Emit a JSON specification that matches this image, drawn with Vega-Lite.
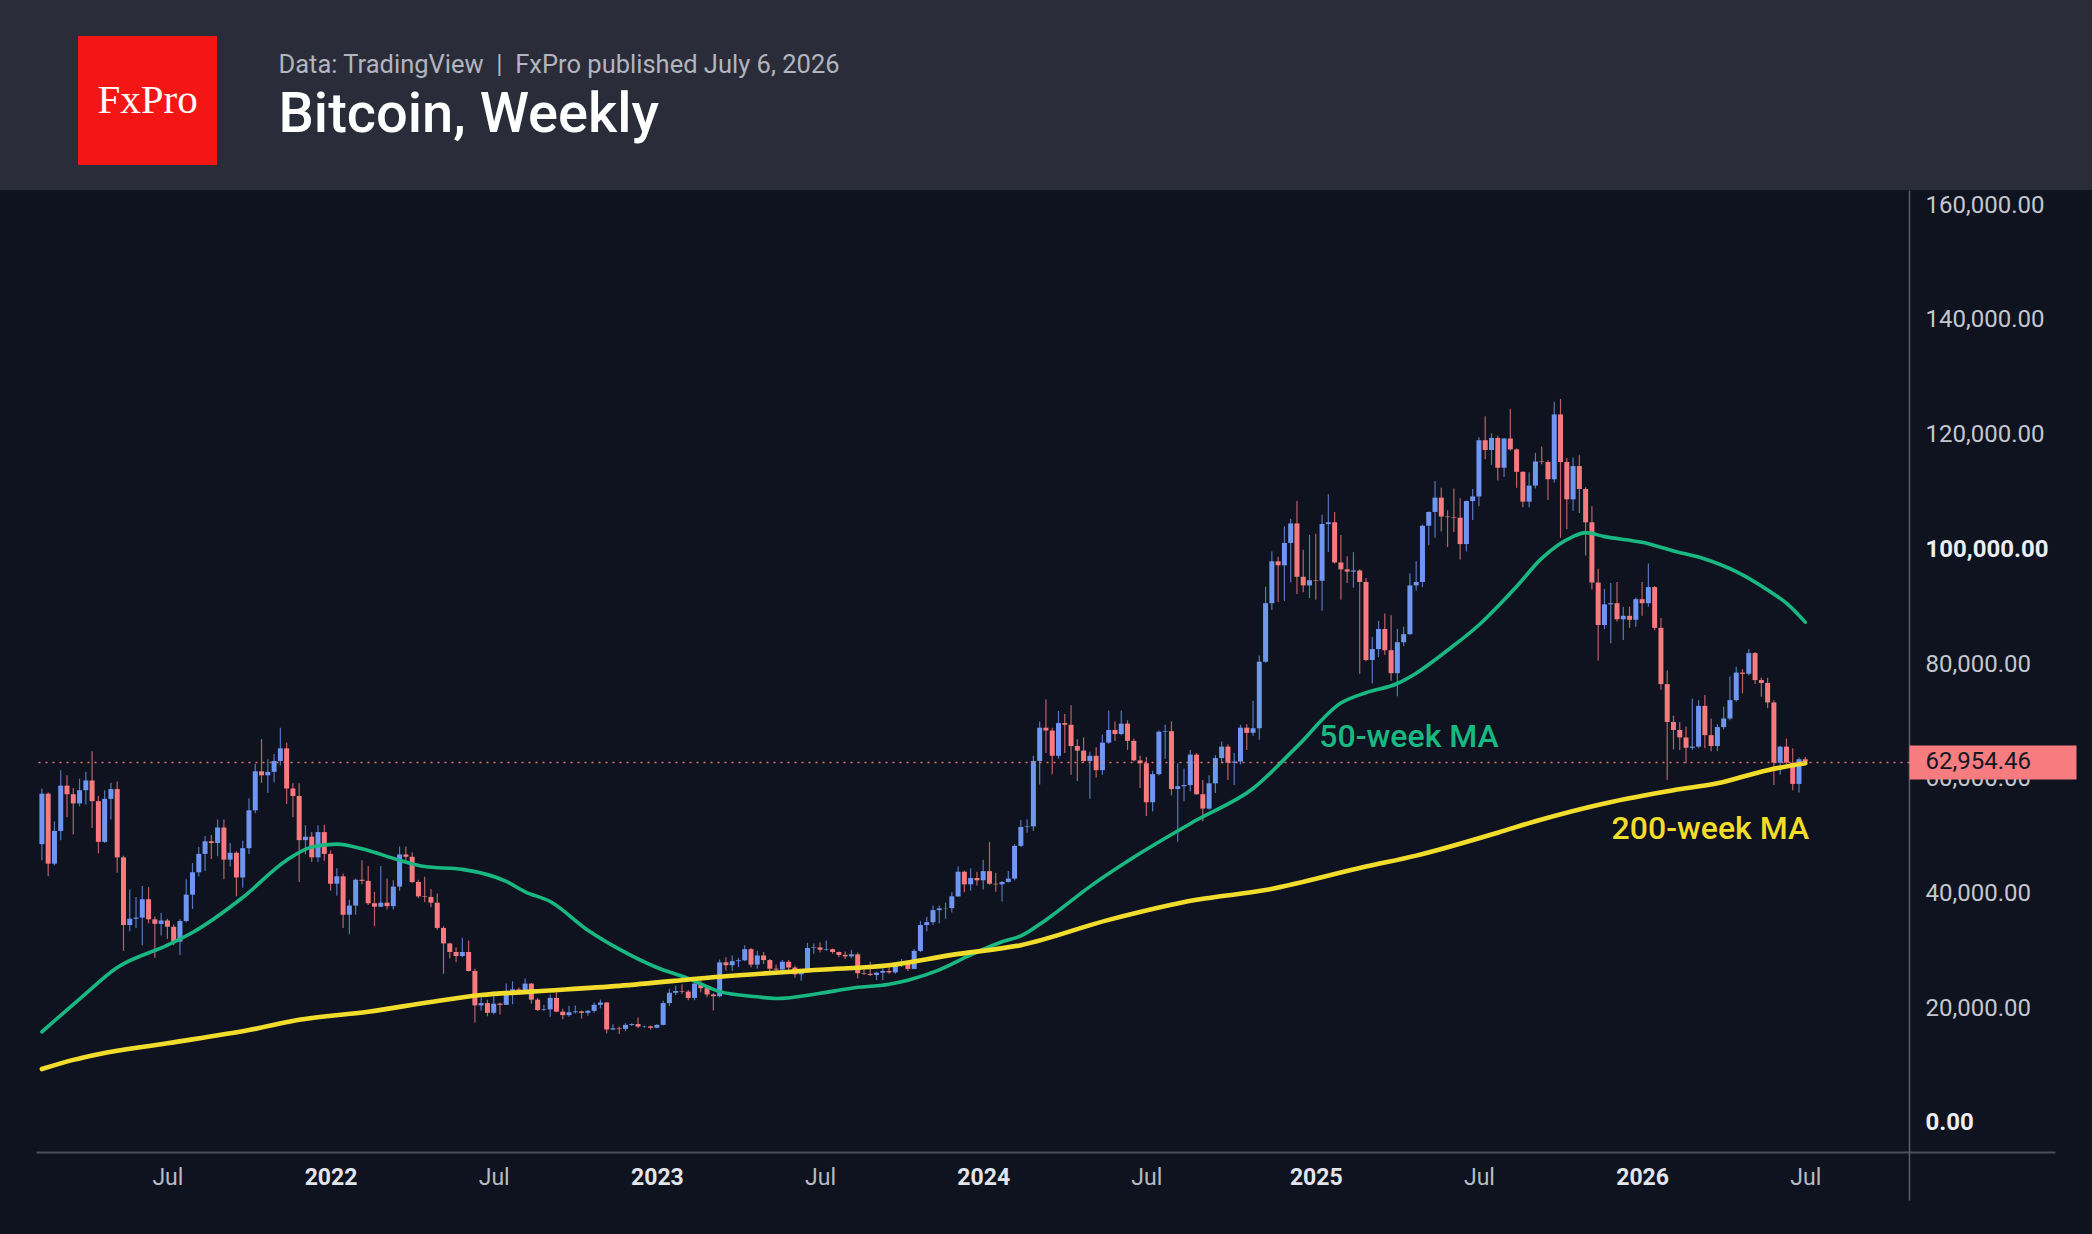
{
  "$schema": "https://vega.github.io/schema/vega-lite/v6.json",
  "padding": 0,
  "background": "#2a2d39",
  "spacing": 0,
  "config": {
    "font": "Roboto",
    "view": {"stroke": null},
    "concat": {"spacing": 0}
  },
  "datasets": {
    "brand": [{"name": "FxPro"}],
    "heading": [
      {"role": "source", "text": "Data: TradingView\u00a0 | \u00a0FxPro published July 6, 2026"},
      {"role": "title", "text": "Bitcoin, Weekly"}
    ],
    "maLabels": [
      {"date": "2025-01-10", "price": 65600, "label": "50-week MA", "series": "50-week MA"},
      {"date": "2025-12-02", "price": 49450, "label": "200-week MA", "series": "200-week MA"}
    ],
    "averages": [
      {"date": "2021-02-15", "series": "50-week MA", "value": 15900},
      {"date": "2021-03-29", "series": "50-week MA", "value": 21600},
      {"date": "2021-05-10", "series": "50-week MA", "value": 27100},
      {"date": "2021-07-05", "series": "50-week MA", "value": 31000},
      {"date": "2021-08-02", "series": "50-week MA", "value": 33200},
      {"date": "2021-09-27", "series": "50-week MA", "value": 39300},
      {"date": "2021-11-15", "series": "50-week MA", "value": 45800},
      {"date": "2021-12-13", "series": "50-week MA", "value": 48100},
      {"date": "2022-01-10", "series": "50-week MA", "value": 48600},
      {"date": "2022-02-07", "series": "50-week MA", "value": 47800},
      {"date": "2022-03-21", "series": "50-week MA", "value": 45800},
      {"date": "2022-04-18", "series": "50-week MA", "value": 44700},
      {"date": "2022-05-30", "series": "50-week MA", "value": 44200},
      {"date": "2022-07-18", "series": "50-week MA", "value": 42100},
      {"date": "2022-08-08", "series": "50-week MA", "value": 40300},
      {"date": "2022-09-05", "series": "50-week MA", "value": 38600},
      {"date": "2022-10-17", "series": "50-week MA", "value": 33600},
      {"date": "2022-11-21", "series": "50-week MA", "value": 30300},
      {"date": "2023-01-02", "series": "50-week MA", "value": 27100},
      {"date": "2023-02-06", "series": "50-week MA", "value": 25200},
      {"date": "2023-03-13", "series": "50-week MA", "value": 22900},
      {"date": "2023-04-24", "series": "50-week MA", "value": 22000},
      {"date": "2023-05-15", "series": "50-week MA", "value": 21700},
      {"date": "2023-07-03", "series": "50-week MA", "value": 22600},
      {"date": "2023-08-07", "series": "50-week MA", "value": 23500},
      {"date": "2023-09-18", "series": "50-week MA", "value": 24200},
      {"date": "2023-10-09", "series": "50-week MA", "value": 24900},
      {"date": "2023-11-13", "series": "50-week MA", "value": 26700},
      {"date": "2023-12-18", "series": "50-week MA", "value": 29300},
      {"date": "2024-01-22", "series": "50-week MA", "value": 31600},
      {"date": "2024-02-12", "series": "50-week MA", "value": 32600},
      {"date": "2024-03-11", "series": "50-week MA", "value": 35400},
      {"date": "2024-04-29", "series": "50-week MA", "value": 41200},
      {"date": "2024-06-24", "series": "50-week MA", "value": 47000},
      {"date": "2024-08-26", "series": "50-week MA", "value": 52800},
      {"date": "2024-10-28", "series": "50-week MA", "value": 58300},
      {"date": "2024-12-16", "series": "50-week MA", "value": 65600},
      {"date": "2025-02-03", "series": "50-week MA", "value": 73200},
      {"date": "2025-03-03", "series": "50-week MA", "value": 75000},
      {"date": "2025-04-07", "series": "50-week MA", "value": 76600},
      {"date": "2025-04-28", "series": "50-week MA", "value": 78400},
      {"date": "2025-06-02", "series": "50-week MA", "value": 82400},
      {"date": "2025-07-07", "series": "50-week MA", "value": 86800},
      {"date": "2025-08-18", "series": "50-week MA", "value": 93500},
      {"date": "2025-09-15", "series": "50-week MA", "value": 98400},
      {"date": "2025-10-20", "series": "50-week MA", "value": 102200},
      {"date": "2025-11-03", "series": "50-week MA", "value": 102900},
      {"date": "2025-11-24", "series": "50-week MA", "value": 102200},
      {"date": "2026-01-05", "series": "50-week MA", "value": 101200},
      {"date": "2026-02-09", "series": "50-week MA", "value": 99700},
      {"date": "2026-03-16", "series": "50-week MA", "value": 98300},
      {"date": "2026-04-20", "series": "50-week MA", "value": 96100},
      {"date": "2026-05-25", "series": "50-week MA", "value": 92900},
      {"date": "2026-06-15", "series": "50-week MA", "value": 90600},
      {"date": "2026-07-06", "series": "50-week MA", "value": 87300},
      {"date": "2021-02-15", "series": "200-week MA", "value": 9400},
      {"date": "2021-03-22", "series": "200-week MA", "value": 11000},
      {"date": "2021-04-19", "series": "200-week MA", "value": 12000},
      {"date": "2021-07-05", "series": "200-week MA", "value": 13900},
      {"date": "2021-10-04", "series": "200-week MA", "value": 16200},
      {"date": "2021-11-29", "series": "200-week MA", "value": 18000},
      {"date": "2022-02-14", "series": "200-week MA", "value": 19400},
      {"date": "2022-04-25", "series": "200-week MA", "value": 21100},
      {"date": "2022-06-20", "series": "200-week MA", "value": 22300},
      {"date": "2022-08-15", "series": "200-week MA", "value": 22900},
      {"date": "2022-11-21", "series": "200-week MA", "value": 23900},
      {"date": "2023-03-13", "series": "200-week MA", "value": 25500},
      {"date": "2023-07-03", "series": "200-week MA", "value": 26700},
      {"date": "2023-09-18", "series": "200-week MA", "value": 27500},
      {"date": "2023-11-27", "series": "200-week MA", "value": 29300},
      {"date": "2024-02-12", "series": "200-week MA", "value": 31000},
      {"date": "2024-05-20", "series": "200-week MA", "value": 35400},
      {"date": "2024-08-26", "series": "200-week MA", "value": 38900},
      {"date": "2024-11-11", "series": "200-week MA", "value": 40600},
      {"date": "2025-03-03", "series": "200-week MA", "value": 44700},
      {"date": "2025-04-28", "series": "200-week MA", "value": 46600},
      {"date": "2025-07-28", "series": "200-week MA", "value": 50600},
      {"date": "2025-09-08", "series": "200-week MA", "value": 52600},
      {"date": "2025-11-24", "series": "200-week MA", "value": 55700},
      {"date": "2026-02-09", "series": "200-week MA", "value": 58000},
      {"date": "2026-03-30", "series": "200-week MA", "value": 59200},
      {"date": "2026-05-25", "series": "200-week MA", "value": 61500},
      {"date": "2026-07-06", "series": "200-week MA", "value": 62700}
    ],
    "candles": [
      {"date": "2021-02-15", "open": 48600, "high": 58300, "low": 45800, "close": 57400},
      {"date": "2021-02-22", "open": 57400, "high": 57600, "low": 43000, "close": 45200},
      {"date": "2021-03-01", "open": 45200, "high": 52600, "low": 44900, "close": 50900},
      {"date": "2021-03-08", "open": 50900, "high": 61500, "low": 49300, "close": 58800},
      {"date": "2021-03-15", "open": 58800, "high": 60600, "low": 53300, "close": 57300},
      {"date": "2021-03-22", "open": 57300, "high": 58400, "low": 50300, "close": 55700},
      {"date": "2021-03-29", "open": 55700, "high": 60000, "low": 55200, "close": 58000},
      {"date": "2021-04-05", "open": 58000, "high": 61200, "low": 55500, "close": 59700},
      {"date": "2021-04-12", "open": 59700, "high": 64800, "low": 51400, "close": 56100},
      {"date": "2021-04-19", "open": 56100, "high": 57000, "low": 47000, "close": 49000},
      {"date": "2021-04-26", "open": 49000, "high": 58000, "low": 48800, "close": 56500},
      {"date": "2021-05-03", "open": 56500, "high": 59300, "low": 52900, "close": 58200},
      {"date": "2021-05-10", "open": 58200, "high": 59500, "low": 43600, "close": 46300},
      {"date": "2021-05-17", "open": 46300, "high": 46600, "low": 30000, "close": 34500},
      {"date": "2021-05-24", "open": 34500, "high": 40700, "low": 33400, "close": 35600},
      {"date": "2021-05-31", "open": 35600, "high": 39400, "low": 34000, "close": 35800},
      {"date": "2021-06-07", "open": 35800, "high": 41300, "low": 31000, "close": 39000},
      {"date": "2021-06-14", "open": 39000, "high": 41100, "low": 34800, "close": 35500},
      {"date": "2021-06-21", "open": 35500, "high": 36000, "low": 28800, "close": 34700},
      {"date": "2021-06-28", "open": 34700, "high": 36600, "low": 32700, "close": 35300},
      {"date": "2021-07-05", "open": 35300, "high": 35600, "low": 32100, "close": 34200},
      {"date": "2021-07-12", "open": 34200, "high": 34600, "low": 31000, "close": 31600},
      {"date": "2021-07-19", "open": 31600, "high": 35500, "low": 29300, "close": 35200},
      {"date": "2021-07-26", "open": 35200, "high": 42500, "low": 35000, "close": 39800},
      {"date": "2021-08-02", "open": 39800, "high": 45300, "low": 37300, "close": 43700},
      {"date": "2021-08-09", "open": 43700, "high": 48100, "low": 43000, "close": 46900},
      {"date": "2021-08-16", "open": 46900, "high": 50000, "low": 43900, "close": 49100},
      {"date": "2021-08-23", "open": 49100, "high": 50200, "low": 46000, "close": 48800},
      {"date": "2021-08-30", "open": 48800, "high": 52900, "low": 46500, "close": 51500},
      {"date": "2021-09-06", "open": 51500, "high": 52900, "low": 42500, "close": 45900},
      {"date": "2021-09-13", "open": 45900, "high": 48800, "low": 44700, "close": 47100},
      {"date": "2021-09-20", "open": 47100, "high": 47400, "low": 39500, "close": 42800},
      {"date": "2021-09-27", "open": 42800, "high": 49200, "low": 41000, "close": 47900},
      {"date": "2021-10-04", "open": 47900, "high": 56600, "low": 46900, "close": 54500},
      {"date": "2021-10-11", "open": 54500, "high": 62600, "low": 54000, "close": 61300},
      {"date": "2021-10-18", "open": 61300, "high": 66900, "low": 59300, "close": 60600},
      {"date": "2021-10-25", "open": 60600, "high": 63400, "low": 57500, "close": 61200},
      {"date": "2021-11-01", "open": 61200, "high": 64300, "low": 59400, "close": 63100},
      {"date": "2021-11-08", "open": 63100, "high": 68900, "low": 62300, "close": 65300},
      {"date": "2021-11-15", "open": 65300, "high": 66300, "low": 55600, "close": 58300},
      {"date": "2021-11-22", "open": 58300, "high": 59200, "low": 53300, "close": 57000},
      {"date": "2021-11-29", "open": 57000, "high": 59200, "low": 42000, "close": 49300},
      {"date": "2021-12-06", "open": 49300, "high": 51900, "low": 46800, "close": 49900},
      {"date": "2021-12-13", "open": 49900, "high": 50700, "low": 45500, "close": 46300},
      {"date": "2021-12-20", "open": 46300, "high": 51900, "low": 45500, "close": 50700},
      {"date": "2021-12-27", "open": 50700, "high": 52000, "low": 45700, "close": 46900},
      {"date": "2022-01-03", "open": 46900, "high": 47500, "low": 40500, "close": 41700},
      {"date": "2022-01-10", "open": 41700, "high": 44400, "low": 39600, "close": 43000},
      {"date": "2022-01-17", "open": 43000, "high": 43500, "low": 34000, "close": 36300},
      {"date": "2022-01-24", "open": 36300, "high": 38900, "low": 32900, "close": 37900},
      {"date": "2022-01-31", "open": 37900, "high": 42600, "low": 36300, "close": 42400},
      {"date": "2022-02-07", "open": 42400, "high": 45800, "low": 41600, "close": 42200},
      {"date": "2022-02-14", "open": 42200, "high": 44800, "low": 38000, "close": 38300},
      {"date": "2022-02-21", "open": 38300, "high": 40300, "low": 34300, "close": 37700},
      {"date": "2022-02-28", "open": 37700, "high": 44800, "low": 37600, "close": 38400},
      {"date": "2022-03-07", "open": 38400, "high": 42600, "low": 37200, "close": 37800},
      {"date": "2022-03-14", "open": 37800, "high": 42300, "low": 37200, "close": 41200},
      {"date": "2022-03-21", "open": 41200, "high": 48200, "low": 40500, "close": 46800},
      {"date": "2022-03-28", "open": 46800, "high": 48200, "low": 45200, "close": 46400},
      {"date": "2022-04-04", "open": 46400, "high": 47200, "low": 41800, "close": 42000},
      {"date": "2022-04-11", "open": 42000, "high": 42400, "low": 39200, "close": 39500},
      {"date": "2022-04-18", "open": 39500, "high": 42900, "low": 38500, "close": 39400},
      {"date": "2022-04-25", "open": 39400, "high": 40800, "low": 37600, "close": 38400},
      {"date": "2022-05-02", "open": 38400, "high": 40000, "low": 33700, "close": 34000},
      {"date": "2022-05-09", "open": 34000, "high": 34300, "low": 26000, "close": 31300},
      {"date": "2022-05-16", "open": 31300, "high": 31400, "low": 28700, "close": 29800},
      {"date": "2022-05-23", "open": 29800, "high": 30600, "low": 28000, "close": 29100},
      {"date": "2022-05-30", "open": 29100, "high": 32300, "low": 28900, "close": 29800},
      {"date": "2022-06-06", "open": 29800, "high": 31800, "low": 26400, "close": 26500},
      {"date": "2022-06-13", "open": 26500, "high": 26900, "low": 17500, "close": 20500},
      {"date": "2022-06-20", "open": 20500, "high": 21900, "low": 19600, "close": 20900},
      {"date": "2022-06-27", "open": 20900, "high": 21500, "low": 18600, "close": 19200},
      {"date": "2022-07-04", "open": 19200, "high": 22500, "low": 18900, "close": 20800},
      {"date": "2022-07-11", "open": 20800, "high": 21000, "low": 18900, "close": 20600},
      {"date": "2022-07-18", "open": 20600, "high": 24300, "low": 20600, "close": 22600},
      {"date": "2022-07-25", "open": 22600, "high": 24700, "low": 20700, "close": 23300},
      {"date": "2022-08-01", "open": 23300, "high": 23600, "low": 22400, "close": 23150},
      {"date": "2022-08-08", "open": 23150, "high": 25200, "low": 22700, "close": 24300},
      {"date": "2022-08-15", "open": 24300, "high": 24400, "low": 20800, "close": 21500},
      {"date": "2022-08-22", "open": 21500, "high": 21800, "low": 19500, "close": 19700},
      {"date": "2022-08-29", "open": 19700, "high": 20600, "low": 19500, "close": 19800},
      {"date": "2022-09-05", "open": 19800, "high": 22400, "low": 18500, "close": 21800},
      {"date": "2022-09-12", "open": 21800, "high": 22800, "low": 19300, "close": 19400},
      {"date": "2022-09-19", "open": 19400, "high": 19900, "low": 18100, "close": 18800},
      {"date": "2022-09-26", "open": 18800, "high": 20400, "low": 18500, "close": 19300},
      {"date": "2022-10-03", "open": 19300, "high": 20500, "low": 19100, "close": 19450},
      {"date": "2022-10-10", "open": 19450, "high": 19600, "low": 18200, "close": 19200},
      {"date": "2022-10-17", "open": 19200, "high": 19700, "low": 18700, "close": 19550},
      {"date": "2022-10-24", "open": 19550, "high": 21000, "low": 19200, "close": 20600},
      {"date": "2022-10-31", "open": 20600, "high": 21500, "low": 20000, "close": 21000},
      {"date": "2022-11-07", "open": 21000, "high": 21100, "low": 15600, "close": 16300},
      {"date": "2022-11-14", "open": 16300, "high": 17200, "low": 16200, "close": 16500},
      {"date": "2022-11-21", "open": 16500, "high": 16800, "low": 15500, "close": 16400},
      {"date": "2022-11-28", "open": 16400, "high": 17400, "low": 16000, "close": 17100},
      {"date": "2022-12-05", "open": 17100, "high": 17400, "low": 16900, "close": 17250},
      {"date": "2022-12-12", "open": 17250, "high": 18400, "low": 16500, "close": 16800},
      {"date": "2022-12-19", "open": 16800, "high": 17000, "low": 16600, "close": 16850},
      {"date": "2022-12-26", "open": 16850, "high": 16950, "low": 16300, "close": 16600},
      {"date": "2023-01-02", "open": 16600, "high": 17200, "low": 16500, "close": 17100},
      {"date": "2023-01-09", "open": 17100, "high": 21300, "low": 17000, "close": 20900},
      {"date": "2023-01-16", "open": 20900, "high": 23400, "low": 20400, "close": 22700},
      {"date": "2023-01-23", "open": 22700, "high": 23900, "low": 22300, "close": 23000},
      {"date": "2023-01-30", "open": 23000, "high": 24200, "low": 22500, "close": 22900},
      {"date": "2023-02-06", "open": 22900, "high": 23200, "low": 21400, "close": 21800},
      {"date": "2023-02-13", "open": 21800, "high": 25200, "low": 21400, "close": 24300},
      {"date": "2023-02-20", "open": 24300, "high": 25100, "low": 22800, "close": 23500},
      {"date": "2023-02-27", "open": 23500, "high": 23900, "low": 21900, "close": 22400},
      {"date": "2023-03-06", "open": 22400, "high": 22600, "low": 19600, "close": 22100},
      {"date": "2023-03-13", "open": 22100, "high": 28500, "low": 21900, "close": 28000},
      {"date": "2023-03-20", "open": 28000, "high": 28900, "low": 26600, "close": 27500},
      {"date": "2023-03-27", "open": 27500, "high": 29200, "low": 26500, "close": 28200},
      {"date": "2023-04-03", "open": 28200, "high": 28800, "low": 27200, "close": 28350},
      {"date": "2023-04-10", "open": 28350, "high": 31000, "low": 28200, "close": 30300},
      {"date": "2023-04-17", "open": 30300, "high": 30500, "low": 27100, "close": 27600},
      {"date": "2023-04-24", "open": 27600, "high": 30000, "low": 26900, "close": 29200},
      {"date": "2023-05-01", "open": 29200, "high": 29800, "low": 27700, "close": 28400},
      {"date": "2023-05-08", "open": 28400, "high": 28600, "low": 25800, "close": 26900},
      {"date": "2023-05-15", "open": 26900, "high": 27600, "low": 26400, "close": 26750},
      {"date": "2023-05-22", "open": 26750, "high": 28400, "low": 25900, "close": 28100},
      {"date": "2023-05-29", "open": 28100, "high": 28400, "low": 26500, "close": 27100},
      {"date": "2023-06-05", "open": 27100, "high": 27400, "low": 25300, "close": 25900},
      {"date": "2023-06-12", "open": 25900, "high": 26800, "low": 24800, "close": 26300},
      {"date": "2023-06-19", "open": 26300, "high": 31400, "low": 26200, "close": 30500},
      {"date": "2023-06-26", "open": 30500, "high": 31300, "low": 29500, "close": 30600},
      {"date": "2023-07-03", "open": 30600, "high": 31500, "low": 29700, "close": 30200},
      {"date": "2023-07-10", "open": 30200, "high": 31800, "low": 30000, "close": 30300},
      {"date": "2023-07-17", "open": 30300, "high": 30400, "low": 29500, "close": 29800},
      {"date": "2023-07-24", "open": 29800, "high": 29900, "low": 28900, "close": 29300},
      {"date": "2023-07-31", "open": 29300, "high": 29900, "low": 28600, "close": 29050},
      {"date": "2023-08-07", "open": 29050, "high": 30200, "low": 28700, "close": 29400},
      {"date": "2023-08-14", "open": 29400, "high": 29700, "low": 25200, "close": 26100},
      {"date": "2023-08-21", "open": 26100, "high": 26800, "low": 25800, "close": 26000},
      {"date": "2023-08-28", "open": 26000, "high": 28100, "low": 25600, "close": 25800},
      {"date": "2023-09-04", "open": 25800, "high": 26400, "low": 24900, "close": 26200},
      {"date": "2023-09-11", "open": 26200, "high": 27500, "low": 24900, "close": 26500},
      {"date": "2023-09-18", "open": 26500, "high": 27500, "low": 26000, "close": 26250},
      {"date": "2023-09-25", "open": 26250, "high": 28000, "low": 26000, "close": 27900},
      {"date": "2023-10-02", "open": 27900, "high": 28600, "low": 27200, "close": 27950},
      {"date": "2023-10-09", "open": 27950, "high": 28000, "low": 26500, "close": 26850},
      {"date": "2023-10-16", "open": 26850, "high": 30300, "low": 26800, "close": 30000},
      {"date": "2023-10-23", "open": 30000, "high": 35200, "low": 29800, "close": 34500},
      {"date": "2023-10-30", "open": 34500, "high": 35900, "low": 33400, "close": 35000},
      {"date": "2023-11-06", "open": 35000, "high": 37900, "low": 34500, "close": 37100},
      {"date": "2023-11-13", "open": 37100, "high": 37900, "low": 34800, "close": 37400},
      {"date": "2023-11-20", "open": 37400, "high": 38400, "low": 35600, "close": 37450},
      {"date": "2023-11-27", "open": 37450, "high": 40200, "low": 36700, "close": 39500},
      {"date": "2023-12-04", "open": 39500, "high": 44700, "low": 39400, "close": 43800},
      {"date": "2023-12-11", "open": 43800, "high": 44000, "low": 40200, "close": 41600},
      {"date": "2023-12-18", "open": 41600, "high": 44400, "low": 40500, "close": 42700},
      {"date": "2023-12-25", "open": 42700, "high": 43800, "low": 41400, "close": 42300},
      {"date": "2024-01-01", "open": 42300, "high": 45900, "low": 40700, "close": 43900},
      {"date": "2024-01-08", "open": 43900, "high": 49000, "low": 41500, "close": 41700},
      {"date": "2024-01-15", "open": 41700, "high": 43600, "low": 40300, "close": 41600},
      {"date": "2024-01-22", "open": 41600, "high": 42200, "low": 38600, "close": 42000},
      {"date": "2024-01-29", "open": 42000, "high": 43900, "low": 41900, "close": 42600},
      {"date": "2024-02-05", "open": 42600, "high": 48600, "low": 42300, "close": 48300},
      {"date": "2024-02-12", "open": 48300, "high": 52800, "low": 48100, "close": 51600},
      {"date": "2024-02-19", "open": 51600, "high": 52900, "low": 50600, "close": 51700},
      {"date": "2024-02-26", "open": 51700, "high": 64000, "low": 50900, "close": 63100},
      {"date": "2024-03-04", "open": 63100, "high": 70000, "low": 59000, "close": 68900},
      {"date": "2024-03-11", "open": 68900, "high": 73800, "low": 64500, "close": 68400},
      {"date": "2024-03-18", "open": 68400, "high": 68900, "low": 60800, "close": 64000},
      {"date": "2024-03-25", "open": 64000, "high": 71800, "low": 63500, "close": 69700},
      {"date": "2024-04-01", "open": 69700, "high": 71300, "low": 64500, "close": 69400},
      {"date": "2024-04-08", "open": 69400, "high": 72800, "low": 60700, "close": 65700},
      {"date": "2024-04-15", "open": 65700, "high": 66900, "low": 59600, "close": 64900},
      {"date": "2024-04-22", "open": 64900, "high": 67200, "low": 62800, "close": 63100},
      {"date": "2024-04-29", "open": 63100, "high": 64700, "low": 56500, "close": 64000},
      {"date": "2024-05-06", "open": 64000, "high": 65500, "low": 60200, "close": 61500},
      {"date": "2024-05-13", "open": 61500, "high": 67700, "low": 60700, "close": 66300},
      {"date": "2024-05-20", "open": 66300, "high": 71900, "low": 66100, "close": 68500},
      {"date": "2024-05-27", "open": 68500, "high": 70000, "low": 66600, "close": 67800},
      {"date": "2024-06-03", "open": 67800, "high": 71900, "low": 67600, "close": 69600},
      {"date": "2024-06-10", "open": 69600, "high": 70200, "low": 65000, "close": 66600},
      {"date": "2024-06-17", "open": 66600, "high": 67000, "low": 63000, "close": 63200},
      {"date": "2024-06-24", "open": 63200, "high": 64000, "low": 58400, "close": 62700},
      {"date": "2024-07-01", "open": 62700, "high": 63800, "low": 53500, "close": 55900},
      {"date": "2024-07-08", "open": 55900, "high": 61400, "low": 54300, "close": 60800},
      {"date": "2024-07-15", "open": 60800, "high": 68400, "low": 60600, "close": 68200},
      {"date": "2024-07-22", "open": 68200, "high": 69400, "low": 63500, "close": 68300},
      {"date": "2024-07-29", "open": 68300, "high": 70000, "low": 57100, "close": 58200},
      {"date": "2024-08-05", "open": 58200, "high": 62700, "low": 49000, "close": 58700},
      {"date": "2024-08-12", "open": 58700, "high": 61800, "low": 56100, "close": 58900},
      {"date": "2024-08-19", "open": 58900, "high": 65000, "low": 57800, "close": 64200},
      {"date": "2024-08-26", "open": 64200, "high": 64500, "low": 57200, "close": 57300},
      {"date": "2024-09-02", "open": 57300, "high": 59800, "low": 52600, "close": 54800},
      {"date": "2024-09-09", "open": 54800, "high": 60600, "low": 54600, "close": 59200},
      {"date": "2024-09-16", "open": 59200, "high": 64100, "low": 57500, "close": 63600},
      {"date": "2024-09-23", "open": 63600, "high": 66500, "low": 62700, "close": 65600},
      {"date": "2024-09-30", "open": 65600, "high": 66000, "low": 59800, "close": 62800},
      {"date": "2024-10-07", "open": 62800, "high": 64500, "low": 58900, "close": 63000},
      {"date": "2024-10-14", "open": 63000, "high": 69400, "low": 62500, "close": 68900},
      {"date": "2024-10-21", "open": 68900, "high": 69500, "low": 65000, "close": 68000},
      {"date": "2024-10-28", "open": 68000, "high": 73600, "low": 67500, "close": 68800},
      {"date": "2024-11-04", "open": 68800, "high": 81500, "low": 66800, "close": 80400},
      {"date": "2024-11-11", "open": 80400, "high": 93500, "low": 80200, "close": 90600},
      {"date": "2024-11-18", "open": 90600, "high": 99600, "low": 89400, "close": 97900},
      {"date": "2024-11-25", "open": 97900, "high": 98700, "low": 90800, "close": 97200},
      {"date": "2024-12-02", "open": 97200, "high": 104000, "low": 91000, "close": 101100},
      {"date": "2024-12-09", "open": 101100, "high": 105300, "low": 94200, "close": 104500},
      {"date": "2024-12-16", "open": 104500, "high": 108400, "low": 92200, "close": 95200},
      {"date": "2024-12-23", "open": 95200, "high": 99900, "low": 92500, "close": 93700},
      {"date": "2024-12-30", "open": 93700, "high": 102500, "low": 91500, "close": 94600},
      {"date": "2025-01-06", "open": 94600, "high": 102700, "low": 91200, "close": 94500},
      {"date": "2025-01-13", "open": 94500, "high": 106000, "low": 89300, "close": 104400},
      {"date": "2025-01-20", "open": 104400, "high": 109600, "low": 99500, "close": 104700},
      {"date": "2025-01-27", "open": 104700, "high": 106500, "low": 97500, "close": 97700},
      {"date": "2025-02-03", "open": 97700, "high": 102500, "low": 91200, "close": 96500},
      {"date": "2025-02-10", "open": 96500, "high": 98800, "low": 94100, "close": 96100},
      {"date": "2025-02-17", "open": 96100, "high": 99500, "low": 93300, "close": 96300},
      {"date": "2025-02-24", "open": 96300, "high": 96500, "low": 78300, "close": 94300},
      {"date": "2025-03-03", "open": 94300, "high": 95000, "low": 80500, "close": 80700},
      {"date": "2025-03-10", "open": 80700, "high": 84700, "low": 76600, "close": 82600},
      {"date": "2025-03-17", "open": 82600, "high": 87500, "low": 81200, "close": 86100},
      {"date": "2025-03-24", "open": 86100, "high": 88800, "low": 81600, "close": 82400},
      {"date": "2025-03-31", "open": 82400, "high": 88500, "low": 77100, "close": 78400},
      {"date": "2025-04-07", "open": 78400, "high": 86100, "low": 74400, "close": 83800},
      {"date": "2025-04-14", "open": 83800, "high": 86500, "low": 83100, "close": 85200},
      {"date": "2025-04-21", "open": 85200, "high": 95800, "low": 85100, "close": 93700},
      {"date": "2025-04-28", "open": 93700, "high": 97900, "low": 92800, "close": 94300},
      {"date": "2025-05-05", "open": 94300, "high": 104300, "low": 93400, "close": 104100},
      {"date": "2025-05-12", "open": 104100, "high": 106600, "low": 100700, "close": 106500},
      {"date": "2025-05-19", "open": 106500, "high": 111900, "low": 102000, "close": 109000},
      {"date": "2025-05-26", "open": 109000, "high": 110700, "low": 103100, "close": 105700},
      {"date": "2025-06-02", "open": 105700, "high": 106800, "low": 100400, "close": 105600},
      {"date": "2025-06-09", "open": 105600, "high": 110600, "low": 103000, "close": 105500},
      {"date": "2025-06-16", "open": 105500, "high": 108900, "low": 98200, "close": 100900},
      {"date": "2025-06-23", "open": 100900, "high": 108500, "low": 99600, "close": 108400},
      {"date": "2025-06-30", "open": 108400, "high": 110500, "low": 105100, "close": 109200},
      {"date": "2025-07-07", "open": 109200, "high": 119500, "low": 107500, "close": 119000},
      {"date": "2025-07-14", "open": 119000, "high": 123200, "low": 115700, "close": 117300},
      {"date": "2025-07-21", "open": 117300, "high": 120200, "low": 114700, "close": 119400},
      {"date": "2025-07-28", "open": 119400, "high": 119800, "low": 112000, "close": 114200},
      {"date": "2025-08-04", "open": 114200, "high": 119400, "low": 112600, "close": 119300},
      {"date": "2025-08-11", "open": 119300, "high": 124500, "low": 117200, "close": 117400},
      {"date": "2025-08-18", "open": 117400, "high": 117600, "low": 110700, "close": 113500},
      {"date": "2025-08-25", "open": 113500, "high": 113600, "low": 107300, "close": 108300},
      {"date": "2025-09-01", "open": 108300, "high": 113400, "low": 107300, "close": 111100},
      {"date": "2025-09-08", "open": 111100, "high": 116800, "low": 110600, "close": 115300},
      {"date": "2025-09-15", "open": 115300, "high": 117900, "low": 114800, "close": 115200},
      {"date": "2025-09-22", "open": 115200, "high": 115500, "low": 108600, "close": 112200},
      {"date": "2025-09-29", "open": 112200, "high": 125700, "low": 111600, "close": 123500},
      {"date": "2025-10-06", "open": 123500, "high": 126200, "low": 102000, "close": 115200},
      {"date": "2025-10-13", "open": 115200, "high": 115900, "low": 103500, "close": 108700},
      {"date": "2025-10-20", "open": 108700, "high": 116000, "low": 106700, "close": 114500},
      {"date": "2025-10-27", "open": 114500, "high": 116400, "low": 106300, "close": 110500},
      {"date": "2025-11-03", "open": 110500, "high": 110800, "low": 98900, "close": 104700},
      {"date": "2025-11-10", "open": 104700, "high": 107500, "low": 93000, "close": 94200},
      {"date": "2025-11-17", "open": 94200, "high": 96600, "low": 80600, "close": 86800},
      {"date": "2025-11-24", "open": 86800, "high": 93100, "low": 86100, "close": 90400},
      {"date": "2025-12-01", "open": 90400, "high": 94100, "low": 83600, "close": 90600},
      {"date": "2025-12-08", "open": 90600, "high": 94300, "low": 87400, "close": 87800},
      {"date": "2025-12-15", "open": 87800, "high": 90000, "low": 84200, "close": 88400},
      {"date": "2025-12-22", "open": 88400, "high": 90000, "low": 86300, "close": 87700},
      {"date": "2025-12-29", "open": 87700, "high": 91600, "low": 86500, "close": 91300},
      {"date": "2026-01-05", "open": 91300, "high": 94300, "low": 88400, "close": 90600},
      {"date": "2026-01-12", "open": 90600, "high": 97500, "low": 90000, "close": 93400},
      {"date": "2026-01-19", "open": 93400, "high": 93600, "low": 85900, "close": 86300},
      {"date": "2026-01-26", "open": 86300, "high": 88000, "low": 75500, "close": 76500},
      {"date": "2026-02-02", "open": 76500, "high": 78900, "low": 59800, "close": 69900},
      {"date": "2026-02-09", "open": 69900, "high": 71000, "low": 65100, "close": 68500},
      {"date": "2026-02-16", "open": 68500, "high": 69900, "low": 65000, "close": 67200},
      {"date": "2026-02-23", "open": 67200, "high": 69100, "low": 62700, "close": 65400},
      {"date": "2026-03-02", "open": 65400, "high": 74000, "low": 65000, "close": 65600},
      {"date": "2026-03-09", "open": 65600, "high": 73700, "low": 65300, "close": 72700},
      {"date": "2026-03-16", "open": 72700, "high": 74600, "low": 65300, "close": 67600},
      {"date": "2026-03-23", "open": 67600, "high": 70500, "low": 64800, "close": 65700},
      {"date": "2026-03-30", "open": 65700, "high": 69500, "low": 64800, "close": 69000},
      {"date": "2026-04-06", "open": 69000, "high": 72600, "low": 68600, "close": 70500},
      {"date": "2026-04-13", "open": 70500, "high": 77800, "low": 70200, "close": 73700},
      {"date": "2026-04-20", "open": 73700, "high": 79500, "low": 73400, "close": 78500},
      {"date": "2026-04-27", "open": 78500, "high": 79100, "low": 74900, "close": 78300},
      {"date": "2026-05-04", "open": 78300, "high": 82600, "low": 78000, "close": 81900},
      {"date": "2026-05-11", "open": 81900, "high": 82100, "low": 76500, "close": 77200},
      {"date": "2026-05-18", "open": 77200, "high": 77600, "low": 74300, "close": 76700},
      {"date": "2026-05-25", "open": 76700, "high": 77600, "low": 72300, "close": 73300},
      {"date": "2026-06-01", "open": 73300, "high": 73700, "low": 58900, "close": 62800},
      {"date": "2026-06-08", "open": 62800, "high": 65700, "low": 60700, "close": 65600},
      {"date": "2026-06-15", "open": 65600, "high": 67000, "low": 62600, "close": 62800},
      {"date": "2026-06-22", "open": 62800, "high": 65300, "low": 58000, "close": 59100},
      {"date": "2026-06-29", "open": 59100, "high": 63700, "low": 57600, "close": 63400},
      {"date": "2026-07-06", "open": 63400, "high": 63800, "low": 62600, "close": 62954.46}
    ]
  },
  "vconcat": [
    {
      "spacing": 0,
      "hconcat": [
        {"width": 78, "height": 190, "data": {"values": []}, "mark": "text"},
        {
          "spacing": 0,
          "vconcat": [
            {"width": 139, "height": 36, "data": {"values": []}, "mark": "text"},
            {
              "width": 139,
              "height": 129,
              "view": {"fill": "#f41515", "stroke": null},
              "data": {"name": "brand"},
              "mark": {"type": "text", "font": "Liberation Serif", "fontSize": 41, "color": "#ffffff", "align": "center", "baseline": "middle"},
              "encoding": {"text": {"field": "name"}}
            },
            {"width": 139, "height": 25, "data": {"values": []}, "mark": "text"}
          ]
        },
        {"width": 61, "height": 190, "data": {"values": []}, "mark": "text"},
        {
          "width": 1,
          "height": 190,
          "data": {"name": "heading"},
          "layer": [
            {
              "transform": [{"filter": "datum.role == 'source'"}],
              "mark": {"type": "text", "align": "left", "baseline": "alphabetic", "fontSize": 25.5, "color": "#b2b5be", "dy": -22},
              "encoding": {"text": {"field": "text"}}
            },
            {
              "transform": [{"filter": "datum.role == 'title'"}],
              "mark": {"type": "text", "align": "left", "baseline": "alphabetic", "fontSize": 56, "fontWeight": 500, "color": "#ffffff", "dy": 37},
              "encoding": {"text": {"field": "text"}}
            }
          ]
        }
      ]
    },
    {
      "width": 2092,
      "height": 1044,
      "view": {"fill": "#0e131f", "stroke": null},
      "resolve": {"axis": {"y": "independent"}},
      "encoding": {
        "x": {
          "field": "date",
          "type": "temporal",
          "scale": {
            "type": "utc",
            "domain": [{"year": 2021, "month": 2, "date": 14, "utc": true}, {"year": 2027, "month": 4, "date": 5, "utc": true}],
            "range": [36, 2055]
          },
          "axis": {
            "orient": "bottom",
            "offset": -82,
            "title": null,
            "grid": false,
            "ticks": false,
            "values": [
              {"year": 2021, "month": 7, "date": 5, "utc": true},
              {"year": 2022, "month": 1, "date": 3, "utc": true},
              {"year": 2022, "month": 7, "date": 4, "utc": true},
              {"year": 2023, "month": 1, "date": 2, "utc": true},
              {"year": 2023, "month": 7, "date": 3, "utc": true},
              {"year": 2024, "month": 1, "date": 1, "utc": true},
              {"year": 2024, "month": 7, "date": 1, "utc": true},
              {"year": 2025, "month": 1, "date": 6, "utc": true},
              {"year": 2025, "month": 7, "date": 7, "utc": true},
              {"year": 2026, "month": 1, "date": 5, "utc": true},
              {"year": 2026, "month": 7, "date": 6, "utc": true}
            ],
            "labelExpr": "utcmonth(datum.value) == 0 ? utcFormat(datum.value, '%Y') : utcFormat(datum.value, '%b')",
            "labelFontSize": 23,
            "labelPadding": 14,
            "labelBaseline": "top",
            "labelFlush": false,
            "labelOverlap": false,
            "labelColor": {"condition": {"test": "utcmonth(datum.value) == 0", "value": "#e3e5eb"}, "value": "#b8bbc4"},
            "labelFontWeight": {"condition": {"test": "utcmonth(datum.value) == 0", "value": "bold"}, "value": "normal"},
            "domainColor": "#4c4f5a",
            "domainWidth": 2
          }
        }
      },
      "layer": [
        {
          "data": {"name": "candles"},
          "mark": {"type": "rule", "strokeWidth": 1.2, "opacity": 0.75},
          "encoding": {
            "y": {"field": "low", "type": "quantitative", "scale": {"domain": [-13420.5, 162614.4], "range": [1010, 0], "nice": false, "zero": false}, "axis": null},
            "y2": {"field": "high"},
            "color": {"condition": {"test": "datum.close >= datum.open", "value": "#6f97f1"}, "value": "#f77a7e"}
          }
        },
        {
          "data": {"name": "candles"},
          "mark": {"type": "bar", "width": 5},
          "encoding": {
            "y": {
              "field": "open",
              "type": "quantitative",
              "scale": {"domain": [-13420.5, 162614.4], "range": [1010, 0], "nice": false, "zero": false},
              "axis": {
                "orient": "right",
                "offset": -183,
                "title": null,
                "grid": false,
                "ticks": false,
                "values": [0, 20000, 40000, 60000, 80000, 100000, 120000, 140000, 160000],
                "format": ",.2f",
                "labelFontSize": 24,
                "labelPadding": 16,
                "labelAlign": "left",
                "labelBaseline": "middle",
                "labelFlush": false,
                "labelOverlap": false,
                "labelColor": {"condition": {"test": "datum.value == 0 || datum.value == 100000", "value": "#eceef2"}, "value": "#c4c7cf"},
                "labelFontWeight": {"condition": {"test": "datum.value == 0 || datum.value == 100000", "value": "bold"}, "value": "normal"},
                "domainColor": "#5a5d68",
                "domainWidth": 1.5
              }
            },
            "y2": {"field": "close"},
            "color": {"condition": {"test": "datum.close >= datum.open", "value": "#6f97f1"}, "value": "#f77a7e"}
          }
        },
        {
          "data": {"name": "averages"},
          "mark": {"type": "line", "interpolate": "monotone", "strokeCap": "round"},
          "encoding": {
            "y": {"field": "value", "type": "quantitative", "scale": {"domain": [-13420.5, 162614.4], "range": [1010, 0], "nice": false, "zero": false}, "axis": null},
            "color": {"field": "series", "type": "nominal", "scale": {"domain": ["50-week MA", "200-week MA"], "range": ["#19b883", "#f2dd2c"]}, "legend": null},
            "strokeWidth": {"field": "series", "type": "nominal", "scale": {"domain": ["50-week MA", "200-week MA"], "range": [3.6, 4.6]}, "legend": null}
          }
        },
        {
          "data": {"name": "maLabels"},
          "mark": {"type": "text", "align": "left", "baseline": "alphabetic", "fontSize": 32, "fontWeight": 500},
          "encoding": {
            "y": {
              "field": "price",
              "type": "quantitative",
              "scale": {"domain": [-13420.5, 162614.4], "range": [1010, 0], "nice": false, "zero": false},
              "axis": {
                "orient": "right",
                "offset": -183,
                "title": null,
                "domain": false,
                "values": [62954.46],
                "format": ",.2f",
                "ticks": true,
                "tickSize": 167,
                "tickWidth": 34,
                "tickCap": "butt",
                "tickColor": "#f77c80",
                "labelPadding": -151,
                "labelFontSize": 24,
                "labelAlign": "left",
                "labelBaseline": "middle",
                "labelColor": "#131722",
                "labelFlush": false,
                "labelOverlap": false,
                "grid": true,
                "gridColor": "#f77c80",
                "gridDash": [2, 5],
                "gridWidth": 1.3,
                "gridOpacity": 0.9,
                "zindex": 1
              }
            },
            "text": {"field": "label"},
            "color": {"field": "series", "type": "nominal", "legend": null}
          }
        }
      ]
    }
  ]
}
